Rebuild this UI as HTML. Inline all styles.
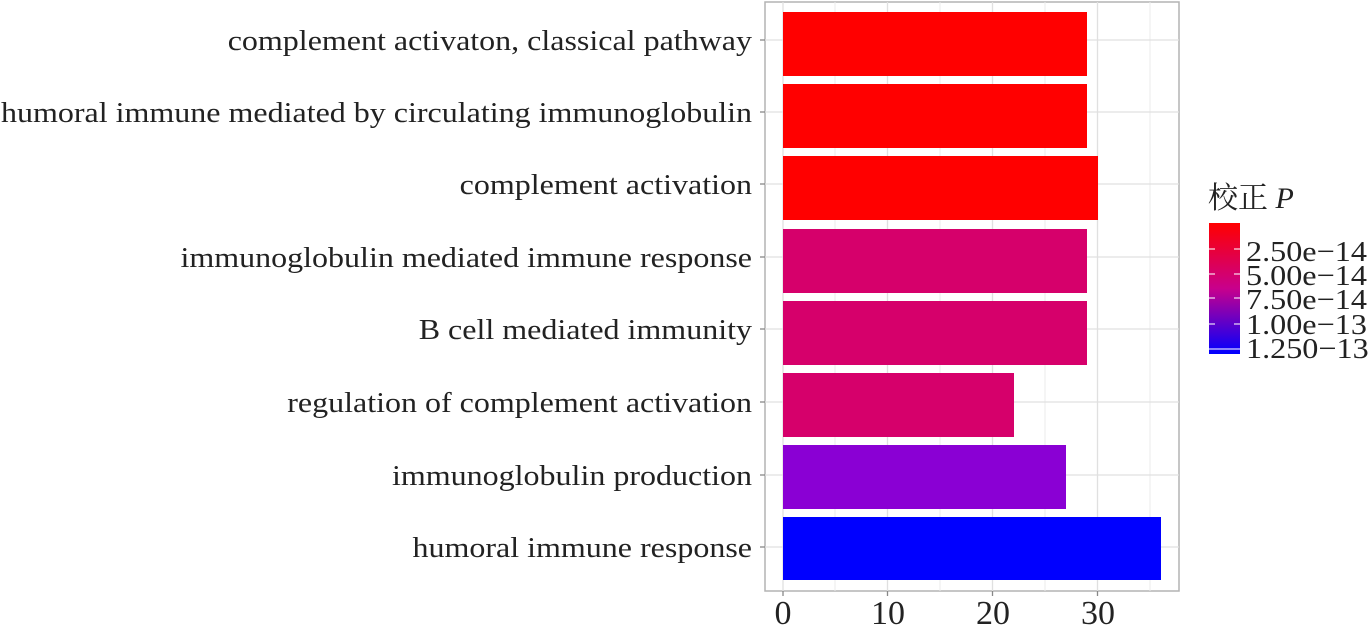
<!DOCTYPE html><html><head><meta charset="utf-8"><style>body{margin:0;background:#fff}</style></head><body>
<svg width="1372" height="631" xmlns="http://www.w3.org/2000/svg" font-family="Liberation Serif, Noto Serif CJK SC, serif">
<defs><linearGradient id="g" x1="0" y1="0" x2="0" y2="1"><stop offset="0" stop-color="#ff0000"/><stop offset="0.5" stop-color="#c8008c"/><stop offset="1" stop-color="#0000ff"/></linearGradient></defs>
<rect x="765" y="2" width="414" height="589" fill="#fff" stroke="#b3b3b3" stroke-width="1.5"/>
<g stroke="#ebebeb" stroke-width="1">
<line x1="835" y1="2" x2="835" y2="591"/><line x1="940" y1="2" x2="940" y2="591"/><line x1="1045" y1="2" x2="1045" y2="591"/><line x1="1150" y1="2" x2="1150" y2="591"/>
</g>
<g stroke="#e0e0e0" stroke-width="1.3">
<line x1="783" y1="2" x2="783" y2="591"/><line x1="887.5" y1="2" x2="887.5" y2="591"/><line x1="992.5" y1="2" x2="992.5" y2="591"/><line x1="1097.5" y1="2" x2="1097.5" y2="591"/>
<line x1="765" y1="40" x2="1179" y2="40"/><line x1="765" y1="112" x2="1179" y2="112"/><line x1="765" y1="184" x2="1179" y2="184"/><line x1="765" y1="257" x2="1179" y2="257"/><line x1="765" y1="329" x2="1179" y2="329"/><line x1="765" y1="402" x2="1179" y2="402"/><line x1="765" y1="475" x2="1179" y2="475"/><line x1="765" y1="547" x2="1179" y2="547"/>
</g>
<rect x="783" y="12" width="304" height="64" fill="#ff0000"/>
<rect x="783" y="84" width="304" height="64" fill="#ff0000"/>
<rect x="783" y="156" width="315" height="64" fill="#ff0000"/>
<rect x="783" y="229" width="304" height="64" fill="#d6006b"/>
<rect x="783" y="301" width="304" height="64" fill="#d6006b"/>
<rect x="783" y="373" width="231" height="64" fill="#d6006b"/>
<rect x="783" y="445" width="283" height="64" fill="#8a00d4"/>
<rect x="783" y="517" width="378" height="63" fill="#0000ff"/>
<g font-size="29" fill="#222" text-anchor="end" transform="translate(752,0) scale(1.104,1) translate(-752,0)">
<text x="752" y="50">complement activaton, classical pathway</text>
<text x="752" y="122">humoral immune mediated by circulating immunoglobulin</text>
<text x="752" y="194">complement activation</text>
<text x="752" y="267">immunoglobulin mediated immune response</text>
<text x="752" y="339">B cell mediated immunity</text>
<text x="752" y="412">regulation of complement activation</text>
<text x="752" y="485">immunoglobulin production</text>
<text x="752" y="557">humoral immune response</text>
</g>
<g font-size="34" fill="#222" text-anchor="middle">
<text x="783" y="624">0</text><text x="888" y="624">10</text><text x="993" y="624">20</text><text x="1098" y="624">30</text>
</g>
<g stroke="#888" stroke-width="1.3">
<line x1="783" y1="591" x2="783" y2="596"/><line x1="887.5" y1="591" x2="887.5" y2="596"/><line x1="992.5" y1="591" x2="992.5" y2="596"/><line x1="1097.5" y1="591" x2="1097.5" y2="596"/>
<line x1="760" y1="40" x2="765" y2="40"/><line x1="760" y1="112" x2="765" y2="112"/><line x1="760" y1="184" x2="765" y2="184"/><line x1="760" y1="257" x2="765" y2="257"/><line x1="760" y1="329" x2="765" y2="329"/><line x1="760" y1="402" x2="765" y2="402"/><line x1="760" y1="475" x2="765" y2="475"/><line x1="760" y1="547" x2="765" y2="547"/>
</g>
<text x="1208" y="208" font-size="30" fill="#222">校正 <tspan font-style="italic">P</tspan></text>
<rect x="1209" y="223" width="31" height="131" fill="url(#g)"/>
<g stroke="#fff" stroke-width="1.5" opacity="0.7">
<line x1="1209" y1="249" x2="1215" y2="249"/><line x1="1234" y1="249" x2="1240" y2="249"/>
<line x1="1209" y1="274" x2="1215" y2="274"/><line x1="1234" y1="274" x2="1240" y2="274"/>
<line x1="1209" y1="298" x2="1215" y2="298"/><line x1="1234" y1="298" x2="1240" y2="298"/>
<line x1="1209" y1="324" x2="1215" y2="324"/><line x1="1234" y1="324" x2="1240" y2="324"/>
<line x1="1209" y1="349" x2="1240" y2="349"/>
</g>
<g font-size="29" fill="#222" transform="translate(1246,0) scale(1.11,1) translate(-1246,0)">
<text x="1246" y="261">2.50e−14</text>
<text x="1246" y="285">5.00e−14</text>
<text x="1246" y="309">7.50e−14</text>
<text x="1246" y="334">1.00e−13</text>
<text x="1246" y="358">1.250−13</text>
</g>
</svg>
</body></html>
